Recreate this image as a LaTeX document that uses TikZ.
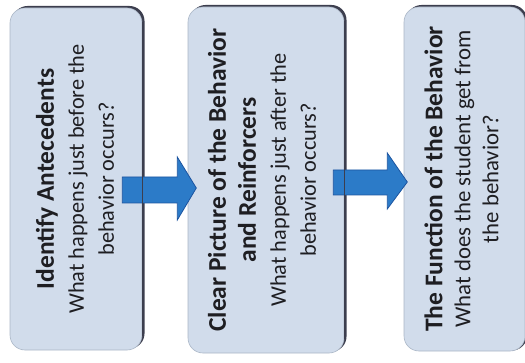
\documentclass[tikz,border=0pt]{standalone}
\usepackage{fontspec}
\setmainfont{Carlito}
\usetikzlibrary{calc}
\definecolor{boxfill}{RGB}{209,220,235}
\definecolor{boxedge}{RGB}{170,182,198}
\definecolor{shadowc}{RGB}{60,62,78}
\definecolor{arrowfill}{RGB}{44,123,200}
\definecolor{arrowedge}{RGB}{28,84,160}
\definecolor{textc}{RGB}{30,30,34}
\tikzset{
  stagebox/.style={rounded corners=15pt, fill=boxfill, draw=boxedge, line width=0.6pt, inner sep=0pt},
  stageshadow/.style={rounded corners=15pt, fill=shadowc},
  stagetext/.style={rotate=90, align=center, text=textc, inner sep=0pt,
    font=\fontsize{22.3}{30}\selectfont},
  blockarrow/.style={fill=arrowfill, draw=arrowedge, line width=0.8pt, line join=miter},
}
\newcommand{\ttl}[1]{{\fontsize{25.5}{30}\selectfont\bfseries #1}}
\begin{document}
\begin{tikzpicture}[x=1pt,y=1pt]
\useasboundingbox (0,0) rectangle (525,362);
% shadows
\fill[stageshadow] (12.5,13.5) rectangle (144.5,356);
\fill[stageshadow] (190.5,10.5) rectangle (346.5,357);
\fill[stageshadow] (406.5,11.5) rectangle (527,357);
% boxes
\node[stagebox, minimum width=132pt, minimum height=342pt] (b1) at (76,183) {};
\node[stagebox, minimum width=156pt, minimum height=346pt] (b2) at (266,182) {};
\node[stagebox, minimum width=121pt, minimum height=344pt] (b3) at (464.5,183) {};
% arrows
\begin{scope}[shift={(b1.east)}]
\draw[blockarrow] (-20,-24) -- (35,-24) -- (35,-41) -- (54,-9) -- (35,22) -- (35,2) -- (-20,2) -- cycle;
\end{scope}
\begin{scope}[shift={(b2.east)}]
\draw[blockarrow] (-11,-15) -- (43,-15) -- (43,-29) -- (63,-2) -- (43,27) -- (43,10) -- (-11,10) -- cycle;
\end{scope}
% dark right edges over arrows
\draw[shadowc, line width=1.2pt] ([yshift=-14pt]b1.north east) -- ([yshift=14pt]b1.south east);
\draw[shadowc, line width=1.2pt] ([yshift=-14pt]b2.north east) -- ([yshift=14pt]b2.south east);
% texts
\node[stagetext] (t1) at ([xshift=-1pt]b1.center) {\ttl{Identify Antecedents}\\What happens just before the\\behavior occurs?};
\node[stagetext] (t2) at ([xshift=-4pt]b2.center) {\ttl{Clear Picture of the Behavior}\\\ttl{and Reinforcers}\\What happens just after the\\behavior occurs?};
\node[stagetext, font=\fontsize{22.8}{28}\selectfont] (t3) at ([xshift=-3pt]b3.center) {\ttl{The Function of the Behavior}\\What does the student get from\\the behavior?};
\end{tikzpicture}
\end{document}
